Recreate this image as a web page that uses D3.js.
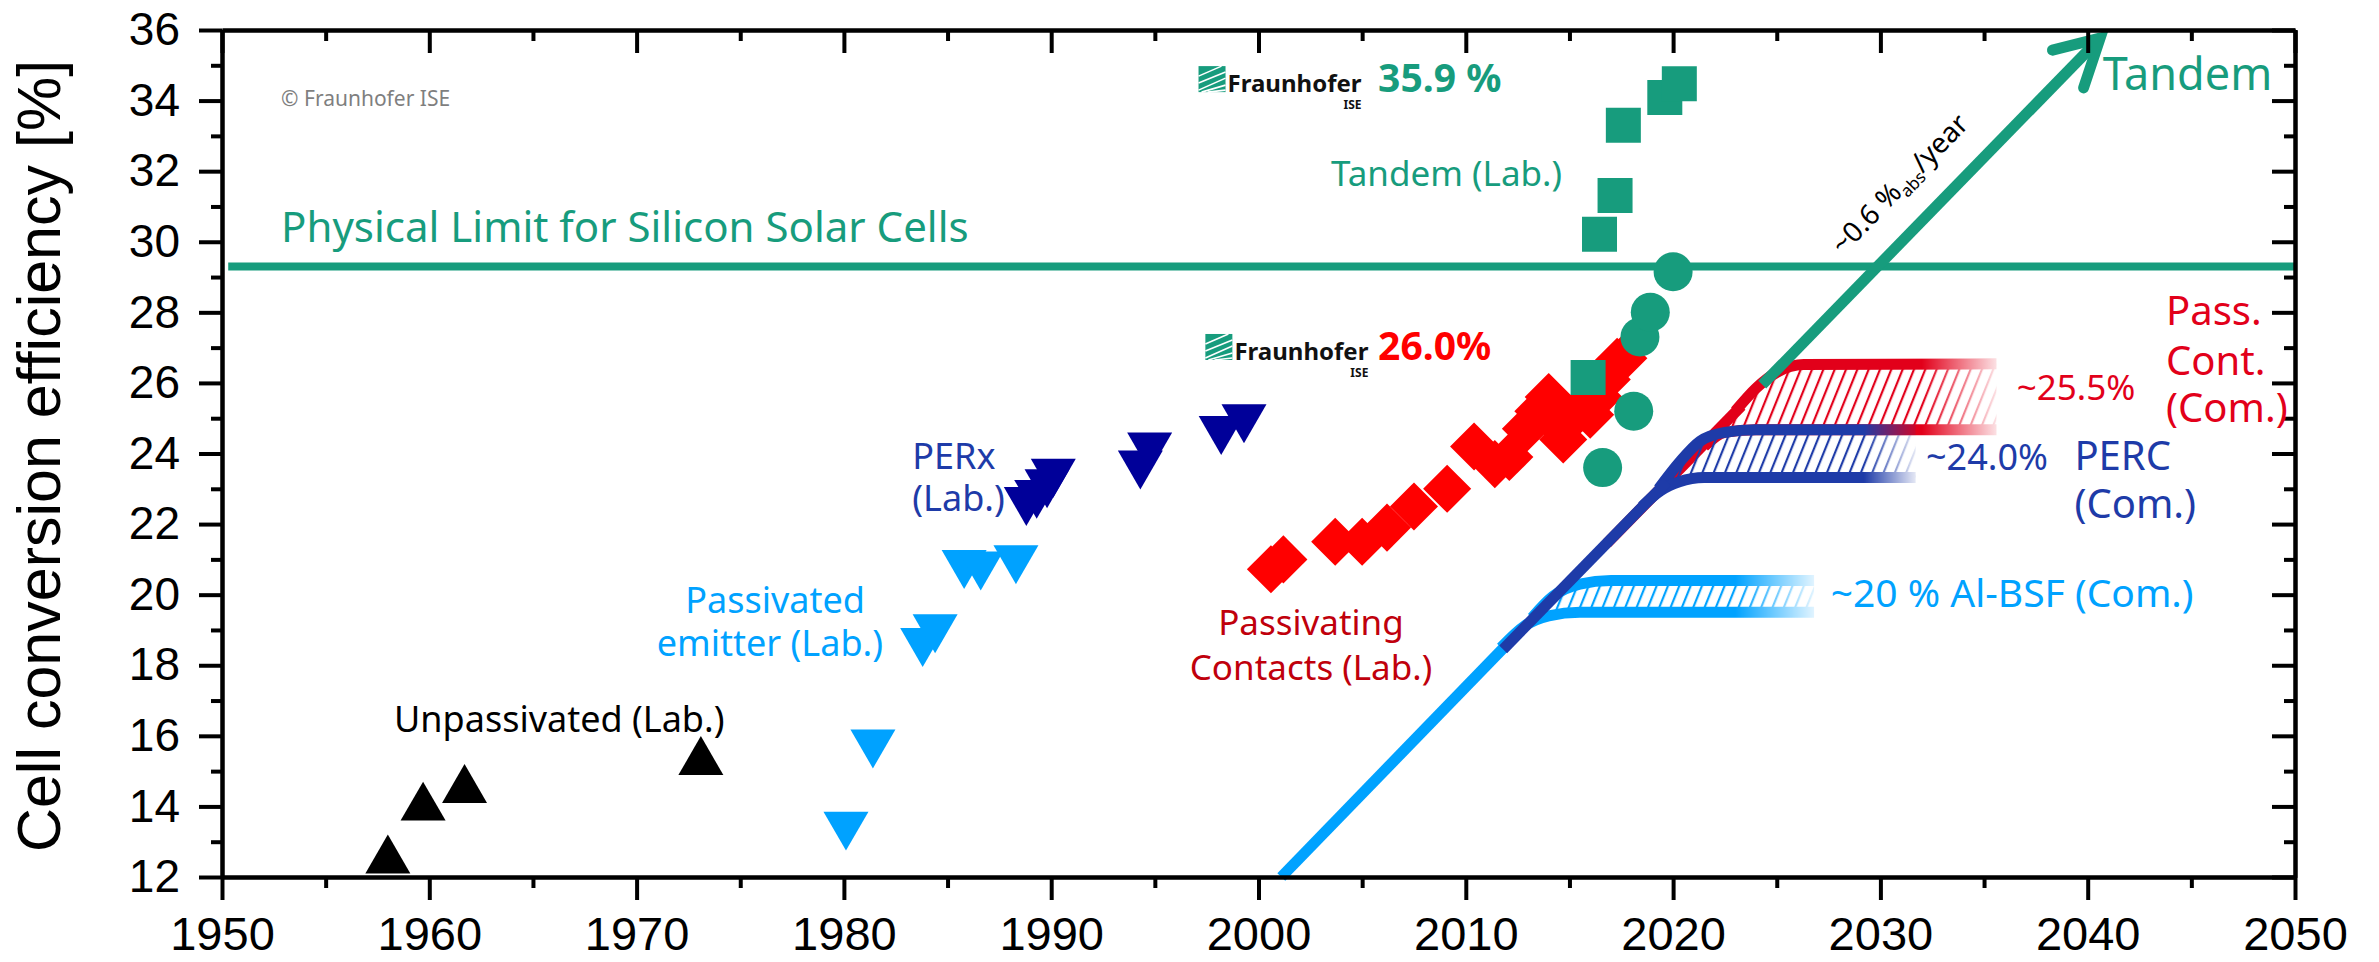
<!DOCTYPE html>
<html><head><meta charset="utf-8">
<script src="https://cdn.jsdelivr.net/npm/d3@7"></script>
<style>body{margin:0;background:#fff}svg{display:block}</style>
</head><body>
<svg id="c" width="2379" height="962"></svg>
<script>
// ---------- data ----------
const xMajorTicks = [1950,1960,1970,1980,1990,2000,2010,2020,2030,2040,2050];
const xTickLabels = ["1950","1960","1970","1980","1990","2000","2010","2020","2030","2040","2050"];
const xMinorTicks = [1955,1965,1975,1985,1995,2005,2015,2025,2035,2045];
const yMajorTicks = [12,14,16,18,20,22,24,26,28,30,32,34,36];
const yTickLabels = ["12","14","16","18","20","22","24","26","28","30","32","34","36"];
const yMinorTicks = [13,15,17,19,21,23,25,27,29,31,33,35];

const unpassivatedLab = [[1958.0,12.65],[1959.7,14.15],[1961.7,14.65],[1973.1,15.44]];
const passEmitterLab = [[1980.1,13.3],[1981.4,15.63],[1983.8,18.5],[1984.4,18.89],[1985.8,20.71],[1986.6,20.67],[1988.3,20.85]];
const perxLab = [[1988.8,22.5],[1989.3,22.7],[1989.8,23.0],[1990.1,23.3],[1994.3,23.53],[1994.75,24.04],[1998.2,24.51],[1999.3,24.84]];
const passContactsLab = [[2000.6,20.72],[2001.2,21.0],[2003.7,21.5],[2005.0,21.5],[2006.2,21.9],[2007.5,22.5],[2009.1,23.0],[2010.4,24.2],[2011.4,23.7],[2012.1,23.9],[2012.9,24.7],[2013.5,25.2],[2014.0,25.6],[2014.3,24.9],[2014.7,24.4],[2015.1,25.0],[2015.6,25.3],[2016.0,25.1],[2016.4,25.6],[2016.8,26.1],[2017.3,26.6],[2017.6,26.7]];
const tandemSquares = [[2015.9,26.15],[2016.45,30.21],[2017.2,31.31],[2017.6,33.3],[2019.6,34.09],[2020.3,34.48]];
const tandemCircles = [[2016.6,23.6],[2018.1,25.2],[2018.4,27.3],[2018.9,28.0],[2020.0,29.15]];

const physicalLimit = 29.3;

const trendLightBlue = [[2001.1,12.0],[2012.0,18.6]];
const trendDarkBlue = [[2011.8,18.45],[2019.7,23.2]];
const trendRed = [[2016.8,21.45],[2023.3,25.35]];
const trendTandem = [[2024.3,25.95],[2040.6,35.77]];
const arrowHead = [[2038.3,35.43],[2040.6,35.77],[2039.8,34.36]];

const alBsfUpper = [[2013.2,19.35],[2014.2,19.95],[2015.5,20.3],[2017.0,20.4],[2026.8,20.4]];
const alBsfLower = [[2011.7,18.5],[2012.8,19.1],[2014.0,19.4],[2015.5,19.5],[2026.8,19.5]];
const percUpper = [[2019.3,23.0],[2020.3,23.75],[2021.3,24.35],[2022.5,24.6],[2024.0,24.67],[2031.7,24.67]];
const percLower = [[2018.5,22.5],[2019.4,22.95],[2020.3,23.2],[2021.5,23.32],[2031.7,23.32]];
const pcUpper = [[2023.0,25.2],[2024.0,25.85],[2025.0,26.3],[2026.3,26.52],[2035.6,26.54]];
const pcLower = [[2021.5,24.2],[2022.5,24.6],[2024.0,24.67],[2035.6,24.67]];

// ---------- setup ----------
const svg = d3.select("#c");
const x = d3.scaleLinear().domain([1950,2050]).range([222,2295]);
const y = d3.scaleLinear().domain([12,36]).range([877,30]);
const C = {teal:"#179c7d", red:"#ff0000", comRed:"#e2001a", labRed:"#c0000c", navy:"#000099", perc:"#1e3ba8", light:"#00a2ff"};
const SANS = "'Noto Sans', 'Open Sans', sans-serif";
const ARIAL = "'Liberation Sans', Arial, sans-serif";
const defs = svg.append("defs");

// hatch patterns
function hatch(id, color){
  const p = defs.append("pattern").attr("id",id).attr("patternUnits","userSpaceOnUse")
    .attr("width",10.5).attr("height",40).attr("patternTransform","rotate(22)");
  p.append("line").attr("x1",2).attr("y1",0).attr("x2",2).attr("y2",40).attr("stroke",color).attr("stroke-width",2.2);
}
hatch("hAl", C.light); hatch("hPerc", C.perc); hatch("hPc", C.comRed);

function fadeMask(id, y0, y1){
  const g = defs.append("linearGradient").attr("id",id+"g").attr("gradientUnits","userSpaceOnUse")
    .attr("x1",x(y0)).attr("x2",x(y1)).attr("y1",0).attr("y2",0);
  g.append("stop").attr("offset",0).attr("stop-color","#fff");
  g.append("stop").attr("offset",1).attr("stop-color","#fff").attr("stop-opacity",0.12);
  defs.append("mask").attr("id",id).attr("maskUnits","userSpaceOnUse")
    .attr("x",0).attr("y",0).attr("width",2379).attr("height",962)
    .append("rect").attr("width",2379).attr("height",962).attr("fill",`url(#${id}g)`);
}
fadeMask("mAl",2023.0,2026.8);
fadeMask("mPerc",2029.2,2031.7);
fadeMask("mPc",2032.0,2035.6);

const line = d3.line().x(d=>x(d[0])).y(d=>y(d[1])).curve(d3.curveMonotoneX);
const straight = d3.line().x(d=>x(d[0])).y(d=>y(d[1]));

// ---------- physical limit ----------
svg.append("line").attr("x1",x(1950.3)).attr("x2",x(2050)).attr("y1",y(physicalLimit)).attr("y2",y(physicalLimit))
  .attr("stroke",C.teal).attr("stroke-width",8);

// ---------- bands ----------
function band(upper, lower, color, pat, mask){
  const g = svg.append("g").attr("mask",`url(#${mask})`);
  const poly = line(upper) + line(lower.slice().reverse()).replace(/^M/,"L") + "Z";
  g.append("path").attr("d",poly).attr("fill",`url(#${pat})`);
  g.append("path").attr("d",line(upper)).attr("fill","none").attr("stroke",color).attr("stroke-width",11);
  g.append("path").attr("d",line(lower)).attr("fill","none").attr("stroke",color).attr("stroke-width",11);
}
band(pcUpper, pcLower, C.comRed, "hPc", "mPc");
svg.append("path").attr("d",straight(trendRed)).attr("stroke",C.comRed).attr("stroke-width",11).attr("fill","none");
band(percUpper, percLower, C.perc, "hPerc", "mPerc");
band(alBsfUpper, alBsfLower, C.light, "hAl", "mAl");
svg.append("path").attr("d",straight(trendLightBlue)).attr("stroke",C.light).attr("stroke-width",11).attr("fill","none");
svg.append("path").attr("d",straight(trendDarkBlue)).attr("stroke",C.perc).attr("stroke-width",11).attr("fill","none");
svg.append("path").attr("d",straight(trendTandem)).attr("stroke",C.teal).attr("stroke-width",11).attr("fill","none");
svg.append("path").attr("d",straight(arrowHead)).attr("stroke",C.teal).attr("stroke-width",11).attr("fill","none")
  .attr("stroke-linecap","round").attr("stroke-linejoin","miter");

// ---------- markers ----------
const triUp = {draw(ctx,s){const w=Math.sqrt(s),h=w*0.866;ctx.moveTo(0,-h/2);ctx.lineTo(w/2,h/2);ctx.lineTo(-w/2,h/2);ctx.closePath();}};
const triDown = {draw(ctx,s){const w=Math.sqrt(s),h=w*0.866;ctx.moveTo(0,h/2);ctx.lineTo(w/2,-h/2);ctx.lineTo(-w/2,-h/2);ctx.closePath();}};
function markers(data, type, size, color, rot){
  svg.append("g").selectAll("path").data(data).join("path")
    .attr("d", d3.symbol().type(type).size(size))
    .attr("transform", d=>`translate(${x(d[0])},${y(d[1])})${rot?` rotate(${rot})`:""}`)
    .attr("fill", color);
}
markers(unpassivatedLab, triUp, 45*45, "#000");
markers(passEmitterLab, triDown, 45*45, C.light);
markers(perxLab, triDown, 45*45, C.navy);
markers(passContactsLab, d3.symbolSquare, 34*34, C.red, 45);
markers(tandemSquares, d3.symbolSquare, 35*35, C.teal);
markers(tandemCircles, d3.symbolCircle, Math.PI*19.5*19.5, C.teal);

// ---------- axes ----------
function styleAxis(g){
  g.select(".domain").attr("stroke","#000").attr("stroke-width",4);
  g.selectAll(".tick line").attr("stroke","#000").attr("stroke-width",4);
}
const gB = svg.append("g").attr("transform",`translate(0,${y(12)})`)
  .call(d3.axisBottom(x).tickValues(xMajorTicks).tickSize(23).tickSizeOuter(0).tickPadding(17).tickFormat((d,i)=>xTickLabels[i]));
gB.selectAll("text").attr("font-family",ARIAL).attr("font-size",47).attr("fill","#000");
styleAxis(gB);
styleAxis(svg.append("g").attr("transform",`translate(0,${y(12)})`).call(d3.axisBottom(x).tickValues(xMinorTicks).tickSize(11).tickSizeOuter(0).tickFormat("")));
const gL = svg.append("g").attr("transform",`translate(${x(1950)},0)`)
  .call(d3.axisLeft(y).tickValues(yMajorTicks).tickSize(23).tickSizeOuter(0).tickPadding(19).tickFormat((d,i)=>yTickLabels[i]));
gL.selectAll("text").attr("font-family",ARIAL).attr("font-size",46).attr("fill","#000");
styleAxis(gL);
styleAxis(svg.append("g").attr("transform",`translate(${x(1950)},0)`).call(d3.axisLeft(y).tickValues(yMinorTicks).tickSize(11).tickSizeOuter(0).tickFormat("")));
styleAxis(svg.append("g").attr("transform",`translate(0,${y(36)})`).call(d3.axisBottom(x).tickValues(xMajorTicks).tickSize(23).tickSizeOuter(0).tickFormat("")));
styleAxis(svg.append("g").attr("transform",`translate(0,${y(36)})`).call(d3.axisBottom(x).tickValues(xMinorTicks).tickSize(11).tickSizeOuter(0).tickFormat("")));
styleAxis(svg.append("g").attr("transform",`translate(${x(2050)},0)`).call(d3.axisLeft(y).tickValues(yMajorTicks).tickSize(23).tickSizeOuter(0).tickFormat("")));
styleAxis(svg.append("g").attr("transform",`translate(${x(2050)},0)`).call(d3.axisLeft(y).tickValues(yMinorTicks).tickSize(11).tickSizeOuter(0).tickFormat("")));

// y title
svg.append("text").attr("transform",`translate(60,456) rotate(-90)`).attr("text-anchor","middle")
  .attr("font-family",ARIAL).attr("font-size",61).attr("fill","#000").text("Cell conversion efficiency [%]");

// ---------- labels ----------
const labels = [
  {t:"© Fraunhofer ISE", p:[1952.85,33.85], s:21, c:"#7f7f7f"},
  {t:"Physical Limit for Silicon Solar Cells", p:[1952.85,29.99], s:42, c:C.teal},
  {t:"Unpassivated (Lab.)", p:[1958.3,16.11], s:36, c:"#000"},
  {t:"Passivated", p:[1976.68,19.48], s:36, c:C.light, a:"middle"},
  {t:"emitter (Lab.)", p:[1976.43,18.26], s:36, c:C.light, a:"middle"},
  {t:"PERx", p:[1983.3,23.55], s:36, c:C.perc},
  {t:"(Lab.)", p:[1983.3,22.37], s:36, c:C.perc},
  {t:"Passivating", p:[2002.53,18.86], s:35, c:C.labRed, a:"middle"},
  {t:"Contacts (Lab.)", p:[2002.53,17.58], s:35, c:C.labRed, a:"middle"},
  {t:"Tandem (Lab.)", p:[2003.5,31.58], s:35, c:C.teal},
  {t:"35.9 %", p:[2005.77,34.24], s:39, c:C.teal, w:"bold"},
  {t:"26.0%", p:[2005.77,26.65], s:39, c:C.red, w:"bold"},
  {t:"Tandem", p:[2040.72,34.3], s:45, c:C.teal},
  {t:"Pass.", p:[2043.78,27.64], s:40, c:C.comRed},
  {t:"Cont.", p:[2043.78,26.22], s:40, c:C.comRed},
  {t:"(Com.)", p:[2043.78,24.89], s:40, c:C.comRed},
  {t:"~25.5%", p:[2036.58,25.52], s:35, c:C.comRed},
  {t:"~24.0%", p:[2032.2,23.53], s:36, c:C.perc},
  {t:"PERC", p:[2039.36,23.53], s:40, c:C.perc},
  {t:"(Com.)", p:[2039.36,22.17], s:40, c:C.perc},
  {t:"~20 % Al-BSF (Com.)", p:[2027.6,19.66], s:39, c:C.light}
];
svg.append("g").selectAll("text").data(labels).join("text")
  .attr("x",d=>x(d.p[0])).attr("y",d=>y(d.p[1])).attr("text-anchor",d=>d.a||"start")
  .attr("font-family",SANS).attr("font-size",d=>d.s).attr("font-weight",d=>d.w||"normal")
  .attr("fill",d=>d.c).text(d=>d.t);

// rotated slope label
const slopeAnchor = [2028.2,29.6];
const st = svg.append("text").attr("transform",`translate(${x(slopeAnchor[0])},${y(slopeAnchor[1])}) rotate(-45.8)`)
  .attr("font-family",SANS).attr("font-size",28).attr("fill","#000");
st.append("tspan").text("~0.6 %");
st.append("tspan").attr("font-size",17).attr("dy",6).text("abs");
st.append("tspan").attr("dy",-6).text("/year");

// Fraunhofer logos
function logo(p){
  const g = svg.append("g").attr("transform",`translate(${x(p[0])},${y(p[1])})`);
  g.append("rect").attr("x",-163).attr("y",-26).attr("width",27).attr("height",26).attr("fill",C.teal);
  [[-163,-2,-136,-14],[-160,0,-136,-7],[-154,0,-136,-2],[-163,-9,-136,-20],[-163,-16,-140,-26]].forEach(l=>
    g.append("line").attr("x1",l[0]).attr("y1",l[1]).attr("x2",l[2]).attr("y2",l[3]).attr("stroke","#fff").attr("stroke-width",1.6));
  g.append("text").attr("x",0).attr("y",0).attr("text-anchor","end").attr("font-family",SANS)
    .attr("font-size",24).attr("font-weight","bold").attr("fill","#111").text("Fraunhofer");
  g.append("text").attr("x",0).attr("y",17).attr("text-anchor","end").attr("font-family",SANS)
    .attr("font-size",12).attr("font-weight","bold").attr("fill","#111").text("ISE");
}
logo([2004.97,34.24]);
logo([2005.3,26.65]);
</script>
</body></html>
